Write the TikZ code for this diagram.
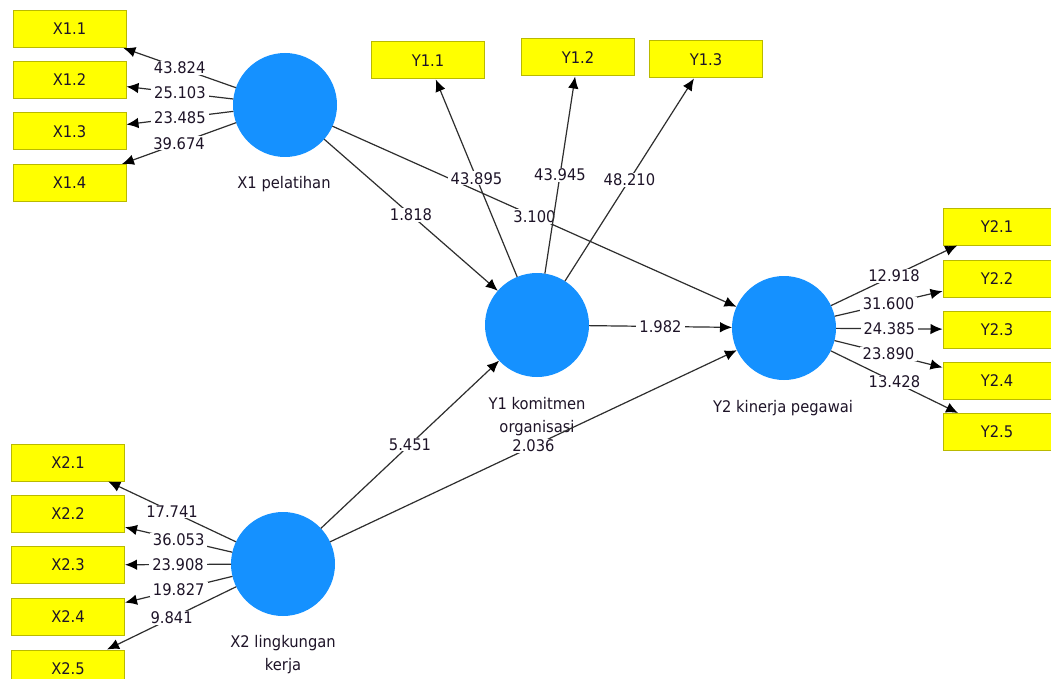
\documentclass[tikz,border=0pt]{standalone}
\usepackage{fontspec}
\setmainfont{DejaVu Sans}[FakeStretch=0.92]
\usetikzlibrary{arrows.meta}
\definecolor{lv}{HTML}{1591FF}
\definecolor{indf}{HTML}{FFFF00}
\definecolor{indb}{HTML}{B9B900}
\definecolor{ln}{HTML}{2E2E2E}
\definecolor{txt}{HTML}{1E1428}
\begin{document}
\begin{tikzpicture}[x=1pt,y=-1pt,
  latent/.style={circle,fill=lv,minimum size=104pt,inner sep=0pt,outer sep=0pt},
  ind/.style={rectangle,fill=indf,draw=indb,line width=1pt,minimum width=113pt,minimum height=37pt,inner sep=0pt,text=txt,font=\fontsize{16}{18}\selectfont},
  conn/.style={draw=ln,line width=1.2pt,-{Latex[length=12pt,width=10.5pt,color=black]}},
  val/.style={fill=white,inner xsep=3pt,inner ysep=1pt,text=txt,font=\fontsize{16}{18}\selectfont},
  lbl/.style={align=center,text=txt,font=\fontsize{16}{23}\selectfont}]
\useasboundingbox[fill=white] (0,0) rectangle (1051,679);
% latent variables
\node[latent] (X1) at (285,105) {};
\node[latent] (Y1) at (537,325) {};
\node[latent] (Y2) at (784,328) {};
\node[latent] (X2) at (283,564) {};
\node[lbl] (X1l) at (284,184) {X1 pelatihan};
\node[lbl] (Y1l) at (537,417) {Y1 komitmen\\organisasi};
\node[lbl] (Y2l) at (783,408) {Y2 kinerja pegawai};
\node[lbl] (X2l) at (283,655) {X2 lingkungan\\kerja};
% indicators X1
\node[ind] (X11) at (69.5,29) {X1.1};
\node[ind] (X12) at (69.5,80) {X1.2};
\node[ind] (X13) at (69.5,131.5) {X1.3};
\node[ind] (X14) at (69.5,183) {X1.4};
% indicators Y1
\node[ind] (Y11) at (428,60.5) {Y1.1};
\node[ind] (Y12) at (578,57.5) {Y1.2};
\node[ind] (Y13) at (706,59.5) {Y1.3};
% indicators Y2
\node[ind,minimum width=108pt] (Y21) at (997,226.5) {Y2.1};
\node[ind,minimum width=108pt] (Y22) at (997,278.5) {Y2.2};
\node[ind,minimum width=108pt] (Y23) at (997,329.5) {Y2.3};
\node[ind,minimum width=108pt] (Y24) at (997,381) {Y2.4};
\node[ind,minimum width=108pt] (Y25) at (997,432) {Y2.5};
% indicators X2
\node[ind] (X21) at (68,462.5) {X2.1};
\node[ind] (X22) at (68,514) {X2.2};
\node[ind] (X23) at (68,565) {X2.3};
\node[ind] (X24) at (68,616.5) {X2.4};
\node[ind] (X25) at (68,668.5) {X2.5};
% structural paths
\draw[conn] (X1) -- node[val] {1.818} (Y1);
\draw[conn] (X1) -- node[val] {3.100} (Y2);
\draw[conn] (X2) -- node[val] {5.451} (Y1);
\draw[conn] (X2) -- node[val] {2.036} (Y2);
\draw[conn] (Y1) -- node[val] {1.982} (Y2);
% outer loadings
\draw[conn] (X1) -- node[val] {43.824} (X11);
\draw[conn] (X1) -- node[val] {25.103} (X12);
\draw[conn] (X1) -- node[val] {23.485} (X13);
\draw[conn] (X1) -- node[val] {39.674} (X14);
\draw[conn] (Y1) -- node[val] {43.895} (Y11);
\draw[conn] (Y1) -- node[val] {43.945} (Y12);
\draw[conn] (Y1) -- node[val] {48.210} (Y13);
\draw[conn] (Y2) -- node[val] {12.918} (Y21);
\draw[conn] (Y2) -- node[val] {31.600} (Y22);
\draw[conn] (Y2) -- node[val] {24.385} (Y23);
\draw[conn] (Y2) -- node[val] {23.890} (Y24);
\draw[conn] (Y2) -- node[val] {13.428} (Y25);
\draw[conn] (X2) -- node[val] {17.741} (X21);
\draw[conn] (X2) -- node[val] {36.053} (X22);
\draw[conn] (X2) -- node[val] {23.908} (X23);
\draw[conn] (X2) -- node[val] {19.827} (X24);
\draw[conn] (X2) -- node[val] {9.841} (X25);
\end{tikzpicture}
\end{document}
